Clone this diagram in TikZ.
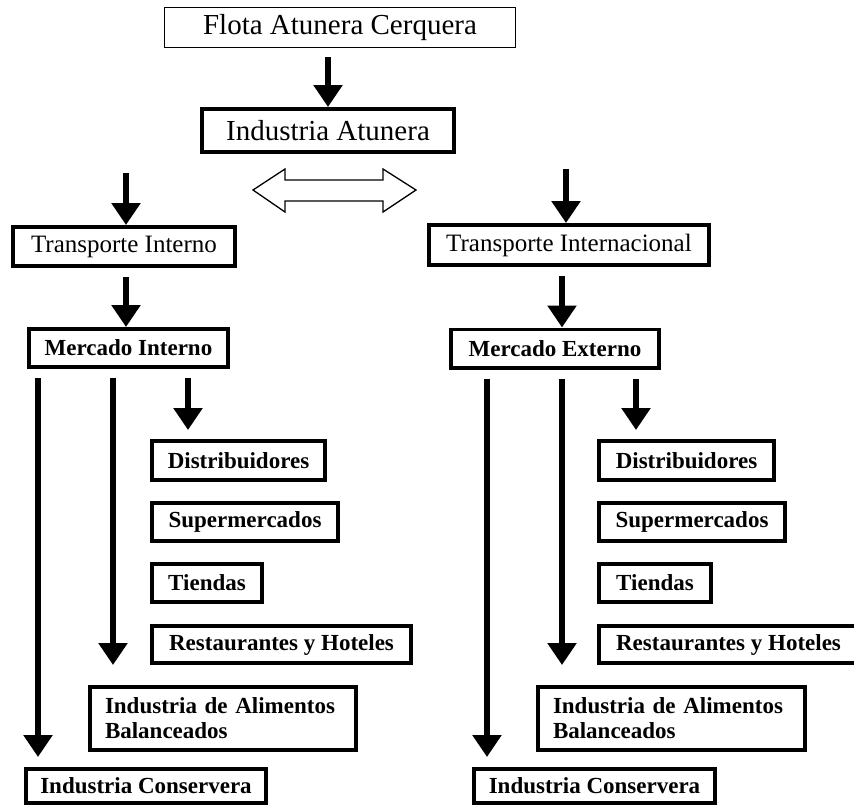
\documentclass[tikz,border=0pt]{standalone}
\usepackage{fontspec}
\setmainfont{Liberation Serif}
\usetikzlibrary{arrows.meta}
\begin{document}
\begin{tikzpicture}[x=1pt,y=-1pt,
  base/.style={draw=black, inner sep=0pt, align=center},
  size/.style 2 args={minimum width=#1pt-3.6pt, minimum height=#2pt-3.6pt},
  thinbox/.style={base, line width=1.3pt, font=\fontsize{29}{31}\selectfont},
  topbox/.style={base, line width=3.6pt, font=\fontsize{29}{31}\selectfont},
  trbox/.style={base, line width=3.6pt, font=\fontsize{25}{27}\selectfont},
  box/.style={base, line width=3.6pt, font=\fontsize{23}{25}\selectfont\bfseries},
  flow/.style={line width=6pt, -{Triangle[width=28pt,length=22pt]}},
  hollow/.style={draw=black, line width=1.3pt, fill=white, line join=miter}
]
\useasboundingbox (0,0) rectangle (854,807);

% top of the chain
\node[thinbox, minimum width=351pt, minimum height=40pt] (flota) at (340,27.5) {Flota Atunera Cerquera};
\node[topbox, size={256}{47}] (indat) at (328,130.5) {Industria Atunera};

% transport
\node[trbox, size={226}{43}] (tint) at (124,246.5) {Transporte Interno};
\node[trbox, size={284}{44}] (tintl) at (569,245) {Transporte Internacional};

% markets
\node[box, size={203}{42}] (mint) at (128.5,348) {Mercado Interno};
\node[box, size={212}{42}] (mext) at (555,348.5) {Mercado Externo};

% internal market destinations
\node[box, size={177}{43}] (dl) at (238.5,460.5) {Distribuidores};
\node[box, size={190}{42}] (sl) at (245,522) {Supermercados};
\node[box, size={114}{42}] (tl) at (207,583) {Tiendas};
\node[box, size={263}{41}] (rl) at (281.5,644.5) {Restaurantes y Hoteles};
\node[box, size={270}{67}, align=left, text width=236pt] (al) at (223,718.5) {Industria de Alimentos\\Balanceados};
\node[box, size={244}{38}] (cl) at (146,786) {Industria Conservera};

% external market destinations
\node[box, size={179}{43}] (dr) at (686.5,460.5) {Distribuidores};
\node[box, size={190}{42}] (sr) at (692,522) {Supermercados};
\node[box, size={116}{42}] (tr) at (655,583) {Tiendas};
\node[box, size={263}{41}] (rr) at (728.5,644.5) {Restaurantes y Hoteles};
\node[box, size={271}{67}, align=left, text width=237pt] (ar) at (671.5,718.5) {Industria de Alimentos\\Balanceados};
\node[box, size={245}{38}] (cr) at (594.5,786) {Industria Conservera};

% two-way link between the branches
\draw[hollow] (253,190) -- (285,169) -- (285,180) -- (383,180) -- (383,169)
  -- (416,190) -- (383,212) -- (383,201) -- (285,201) -- (285,212) -- cycle;

% arrow columns
\coordinate (trL) at (126,173);
\coordinate (trR) at (566,169);
\coordinate (c1) at (38,0);
\coordinate (c2) at (113,0);
\coordinate (c3) at (188,0);
\coordinate (c4) at (487,0);
\coordinate (c5) at (562,0);
\coordinate (c6) at (636,0);

\draw[flow, shorten <=9pt] (flota.south -| indat.north) -- (indat.north);
\draw[flow] (trL) -- (trL |- tint.north);
\draw[flow] (trR) -- (trR |- tintl.north);
\draw[flow, shorten <=9pt] (tint.south -| trL) -- (trL |- mint.north);
\draw[flow, shorten <=9pt] (tintl.south -| c5) -- (c5 |- mext.north);

\draw[flow, shorten <=9pt, shorten >=10pt] (mint.south -| c1) -- (c1 |- cl.north);
\draw[flow, shorten <=9pt, shorten >=20pt] (mint.south -| c2) -- (c2 |- al.north);
\draw[flow, shorten <=9pt, shorten >=9pt] (mint.south -| c3) -- (c3 |- dl.north);

\draw[flow, shorten <=9pt, shorten >=10pt] (mext.south -| c4) -- (c4 |- cr.north);
\draw[flow, shorten <=9pt, shorten >=20pt] (mext.south -| c5) -- (c5 |- ar.north);
\draw[flow, shorten <=9pt, shorten >=9pt] (mext.south -| c6) -- (c6 |- dr.north);
\end{tikzpicture}
\end{document}
